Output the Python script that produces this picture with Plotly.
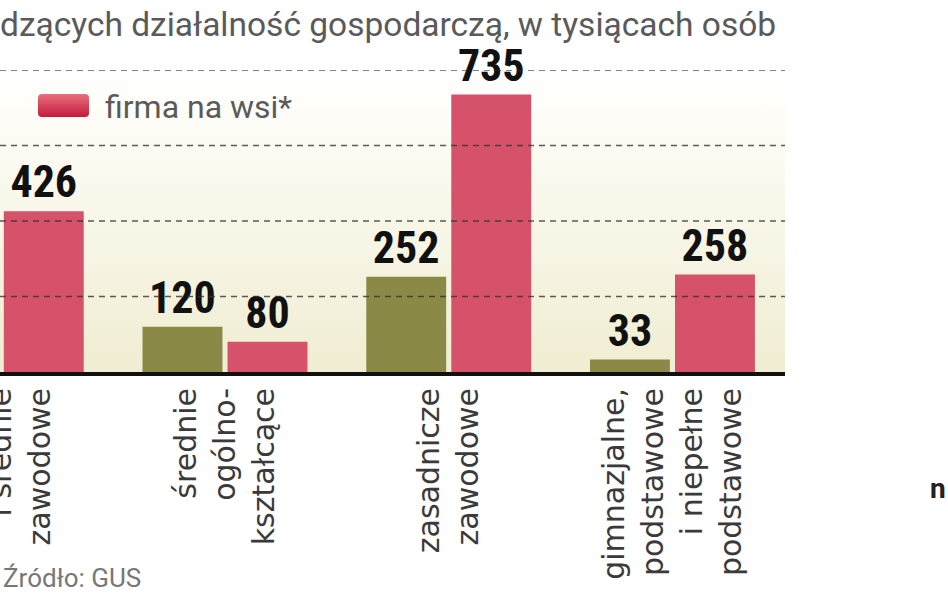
import base64
import plotly.graph_objects as go

# ---- data ----
categories = [
    "policealne<br>i średnie<br>zawodowe",
    "średnie<br>ogólno-<br>kształcące",
    "zasadnicze<br>zawodowe",
    "gimnazjalne,<br>podstawowe<br>i niepełne<br>podstawowe",
]
city_values = [None, 120, 252, 33]      # olive series (first one outside the visible crop)
village_values = [426, 80, 735, 258]    # red series "firma na wsi*"
grid_values = [200, 400, 600, 800]

title_text = "dzących działalność gospodarczą, w tysiącach osób"
legend_text = "firma na wsi*"
source_text = "Źródło: GUS"

W, H = 948, 593
ML, MR, MT, MB = 0, 163, 70, 221
PW, PH = W - ML - MR, H - MT - MB


def px(xp):
    return (xp - ML) / PW


def py(yp):
    return (H - MB - yp) / PH


def svg_uri(svg):
    return "data:image/svg+xml;base64," + base64.b64encode(svg.encode()).decode()


bg_svg = (
    '<svg xmlns="http://www.w3.org/2000/svg" width="100" height="100" preserveAspectRatio="none">'
    '<defs><linearGradient id="g" x1="0" y1="0" x2="0" y2="1">'
    '<stop offset="0" stop-color="#ffffff"/><stop offset="0.2" stop-color="#fdfcf5"/>'
    '<stop offset="1" stop-color="#f0edd2"/></linearGradient></defs>'
    '<rect width="100" height="100" fill="url(#g)"/></svg>'
)
sw_svg = (
    '<svg xmlns="http://www.w3.org/2000/svg" width="53" height="25">'
    '<defs><linearGradient id="s" x1="0" y1="0" x2="0" y2="1">'
    '<stop offset="0" stop-color="#e8707c"/><stop offset="1" stop-color="#c41a3c"/></linearGradient></defs>'
    '<rect x="1" y="1" width="51" height="23" rx="4" fill="url(#s)"/></svg>'
)

label_font = dict(family="Liberation Sans Narrow, Arial Narrow, Roboto Condensed, DejaVu Sans Condensed, sans-serif",
                  size=44, color="#111111", weight="bold")

fig = go.Figure()
fig.add_trace(go.Bar(
    x=categories, y=city_values, name="firma w mieście", showlegend=False,
    marker=dict(color="#8a8a46", line=dict(width=0)),
    text=city_values, texttemplate="%{y}", textposition="outside",
    textfont=label_font, cliponaxis=False,
))
fig.add_trace(go.Bar(
    x=categories, y=village_values, name=legend_text, showlegend=False,
    marker=dict(color="#d5526a", line=dict(width=0)),
    text=village_values, texttemplate="%{y}", textposition="outside",
    textfont=label_font, cliponaxis=False,
))

shapes = []
for g in grid_values:
    shapes.append(dict(type="line", xref="paper", yref="y", x0=0, x1=1, y0=g, y1=g,
                       line=dict(color="rgba(50,50,50,0.8)", width=1.6, dash="6px,5px"),
                       layer="above"))

fig.update_layout(
    width=W, height=H,
    margin=dict(l=ML, r=MR, t=MT, b=MB, pad=0, autoexpand=False),
    paper_bgcolor="white", plot_bgcolor="rgba(0,0,0,0)",
    barmode="group", bargap=0.24, bargroupgap=0.06,
    showlegend=False,
    xaxis=dict(range=[-0.0056, 3.503], showgrid=False, zeroline=False, automargin=False,
               showline=True, linecolor="#111111", linewidth=4,
               ticks="", tickangle=-90,
               tickfont=dict(family="DejaVu Sans", size=30, color="#3a3a3a")),
    yaxis=dict(range=[0, 800], showgrid=False, zeroline=False, showticklabels=False,
               showline=False, automargin=False),
    shapes=shapes,
    images=[
        dict(source=svg_uri(bg_svg), xref="paper", yref="paper", x=0, y=1, sizex=1, sizey=1,
             sizing="stretch", layer="below", xanchor="left", yanchor="top"),
        dict(source=svg_uri(sw_svg), xref="paper", yref="paper", x=px(37), y=py(93),
             sizex=53 / PW, sizey=25 / PH, sizing="stretch", layer="above",
             xanchor="left", yanchor="top"),
    ],
    annotations=[
        dict(text=title_text, xref="paper", yref="paper", x=px(-2), y=py(24),
             xanchor="left", yanchor="middle", showarrow=False,
             font=dict(family="Roboto", size=33.5, color="#5a5a5a")),
        dict(text=legend_text, xref="paper", yref="paper", x=px(103), y=py(107),
             xanchor="left", yanchor="middle", showarrow=False,
             font=dict(family="Roboto", size=32, color="#5a5a5a")),
        dict(text=source_text, xref="paper", yref="paper", x=px(1), y=py(578),
             xanchor="left", yanchor="middle", showarrow=False,
             font=dict(family="Roboto", size=26, color="#777777")),
        dict(text="n", xref="paper", yref="paper", x=px(928), y=py(488),
             xanchor="left", yanchor="middle", showarrow=False,
             font=dict(family="Roboto", size=28, color="#222222", weight="bold")),
    ],
)

fig.write_html("out.html")
